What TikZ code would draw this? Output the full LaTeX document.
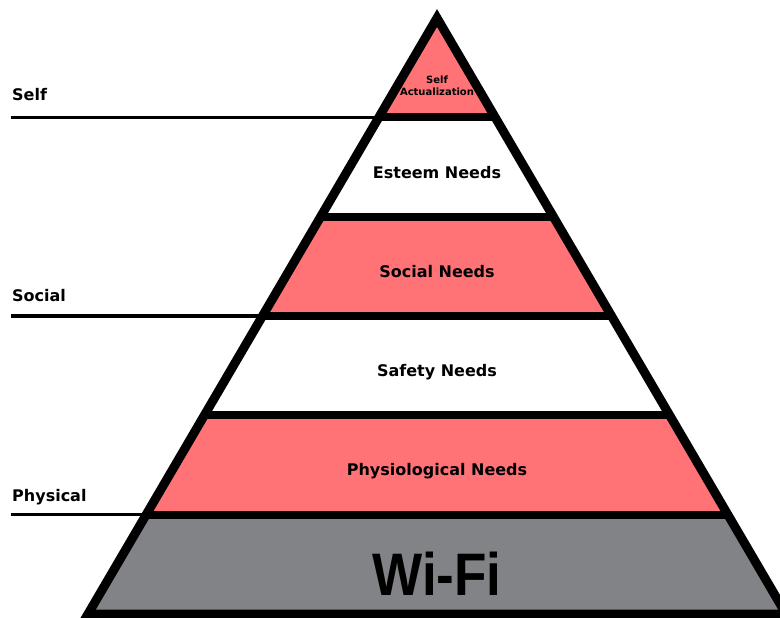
\documentclass[tikz,border=0pt]{standalone}
\usepackage{graphicx}
\usepackage{fontspec}
\setmainfont{DejaVu Sans}
\newfontfamily\wififont{Liberation Sans}
\definecolor{mhpink}{RGB}{255,115,119}
\definecolor{mhgray}{RGB}{130,131,135}
\usetikzlibrary{calc}

\begin{document}
\begin{tikzpicture}[x=1pt,y=-1pt,
  level/.style={font=\fontsize{16}{19}\selectfont\bfseries,anchor=base},
  side/.style={font=\fontsize{16}{19}\selectfont\bfseries,anchor=base west,inner xsep=0pt},
  rim/.style={line width=9pt,line join=miter},
  band/.style={line width=8pt},
  tick/.style={line width=3.5pt}
]
  \useasboundingbox (0,0) rectangle (780,618);
  % Pyramid corners
  \coordinate (apex) at (437,18);
  \coordinate (bl) at (88,614);
  \coordinate (br) at (786,614);
  \foreach \k in {1,...,5} {
    \coordinate (l\k) at ($(apex)!\k/6!(bl)$);
    \coordinate (r\k) at ($(apex)!\k/6!(br)$);
  }

  % Layer fills
  \fill[mhpink] (apex) -- (l1) -- (r1) -- cycle;
  \fill[mhpink] (l2) -- (l3) -- (r3) -- (r2) -- cycle;
  \fill[mhpink] (l4) -- (l5) -- (r5) -- (r4) -- cycle;
  \fill[mhgray] (l5) -- (bl) -- (br) -- (r5) -- cycle;

  % Dividers and outline
  \foreach \k in {1,...,5} \draw[band] (l\k) -- (r\k);
  \draw[rim] (apex) -- (bl) -- (br) -- cycle;

  % Side markers
  \coordinate (tself) at (11,0 |- l1);
  \coordinate (tsocial) at (11,0 |- l3);
  \coordinate (tphys) at (11,0 |- l5);
  \draw[tick] (tself) -- (l1);
  \draw[tick] (tsocial) -- (l3);
  \draw[tick] (tphys) -- (l5);
  \node[side] (self) at (12,101) {Self};
  \node[side] (social) at (12,301) {Social};
  \node[side] (physical) at (12,501) {Physical};

  % Layer labels
  \node[font=\fontsize{10}{12}\selectfont\bfseries,align=center] (selfact) at (437,86) {Self\\Actualization};
  \node[level] (esteem) at (437,178) {Esteem Needs};
  \node[level] (socialneeds) at (437,277) {Social Needs};
  \node[level] (safety) at (437,376) {Safety Needs};
  \node[level] (physio) at (437,475) {Physiological Needs};
  \node[font=\wififont\fontsize{60}{60}\selectfont\bfseries,anchor=base] (wifi) at (437,595) {\scalebox{0.885}[1]{Wi-Fi}};
\end{tikzpicture}
\end{document}
